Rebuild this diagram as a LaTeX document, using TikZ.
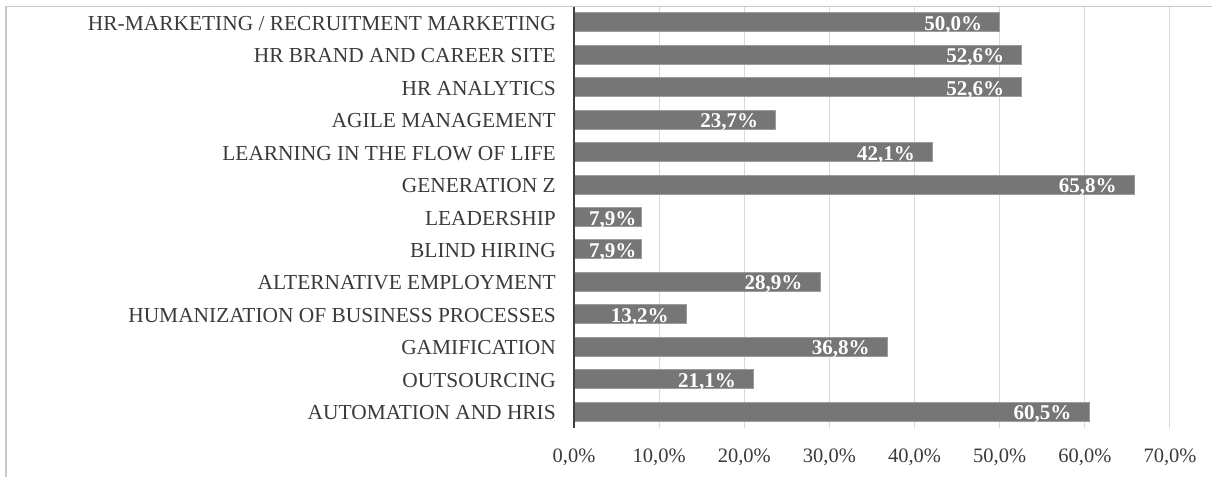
\documentclass[tikz,border=0pt]{standalone}
\usepackage{fontspec}
\setmainfont{Liberation Serif}
\definecolor{barfill}{HTML}{767676}
\definecolor{barline}{HTML}{9C9C9C}
\definecolor{gridc}{HTML}{D9D9D9}
\definecolor{axisc}{HTML}{404040}
\definecolor{framec}{HTML}{C8C8C8}
\definecolor{txt}{HTML}{3A3A3A}
\newcommand{\chartrow}[5]{%
  \pgfmathsetmacro{\yc}{22.2+32.47*#1}%
  \pgfmathsetmacro{\xe}{574+8.514*#2}%
  \draw[barstyle] (574,\yc-9.5) rectangle (\xe,\yc+9.5);
  \node[cat] (cat#1) at (556,\yc+8) {#4};
  \node[val] (val#1) at (\xe-#5,\yc+8) {#3};
}
\begin{document}
\begin{tikzpicture}[x=1pt,y=-1pt,
  cat/.style={anchor=base east, text=txt, font=\fontsize{21.4}{24}\selectfont, inner sep=0pt},
  tick/.style={anchor=base, text=txt, font=\fontsize{20.5}{24}\selectfont, inner sep=0pt},
  val/.style={anchor=base east, text=white, font=\bfseries\fontsize{21}{24}\selectfont, inner sep=0pt},
  barstyle/.style={fill=barfill, draw=barline, line width=1pt},
  gridline/.style={draw=gridc, line width=1pt}]
\useasboundingbox (0,0) rectangle (1212,477);
\draw[framec, line width=1.5pt] (6,477) -- (6,6.7) -- (1212,6.7);
\foreach \i in {1,...,7} {
  \draw[gridline] ({574+85.14*\i},6.7) -- ({574+85.14*\i},427.7);
}
\chartrow{0}{50.0}{50,0\%}{HR-MARKETING / RECRUITMENT MARKETING}{17.5}
\chartrow{1}{52.6}{52,6\%}{HR BRAND AND CAREER SITE}{17.5}
\chartrow{2}{52.6}{52,6\%}{HR ANALYTICS}{17.5}
\chartrow{3}{23.7}{23,7\%}{AGILE MANAGEMENT}{17.5}
\chartrow{4}{42.1}{42,1\%}{LEARNING IN THE FLOW OF LIFE}{17.5}
\chartrow{5}{65.8}{65,8\%}{GENERATION Z}{17.5}
\chartrow{6}{7.9}{7,9\%}{LEADERSHIP}{4.6}
\chartrow{7}{7.9}{7,9\%}{BLIND HIRING}{4.6}
\chartrow{8}{28.9}{28,9\%}{ALTERNATIVE EMPLOYMENT}{17.5}
\chartrow{9}{13.2}{13,2\%}{HUMANIZATION OF BUSINESS PROCESSES}{17.5}
\chartrow{10}{36.8}{36,8\%}{GAMIFICATION}{17.5}
\chartrow{11}{21.1}{21,1\%}{OUTSOURCING}{17.5}
\chartrow{12}{60.5}{60,5\%}{AUTOMATION AND HRIS}{17.5}
\draw[axisc, line width=2.5pt] (574,6.7) -- (574,427.7);
\node[tick] (t0) at (574,462) {0,0\%};
\node[tick] (t1) at (659.14,462) {10,0\%};
\node[tick] (t2) at (744.28,462) {20,0\%};
\node[tick] (t3) at (829.42,462) {30,0\%};
\node[tick] (t4) at (914.56,462) {40,0\%};
\node[tick] (t5) at (999.7,462) {50,0\%};
\node[tick] (t6) at (1084.84,462) {60,0\%};
\node[tick] (t7) at (1169.98,462) {70,0\%};
\end{tikzpicture}
\end{document}
